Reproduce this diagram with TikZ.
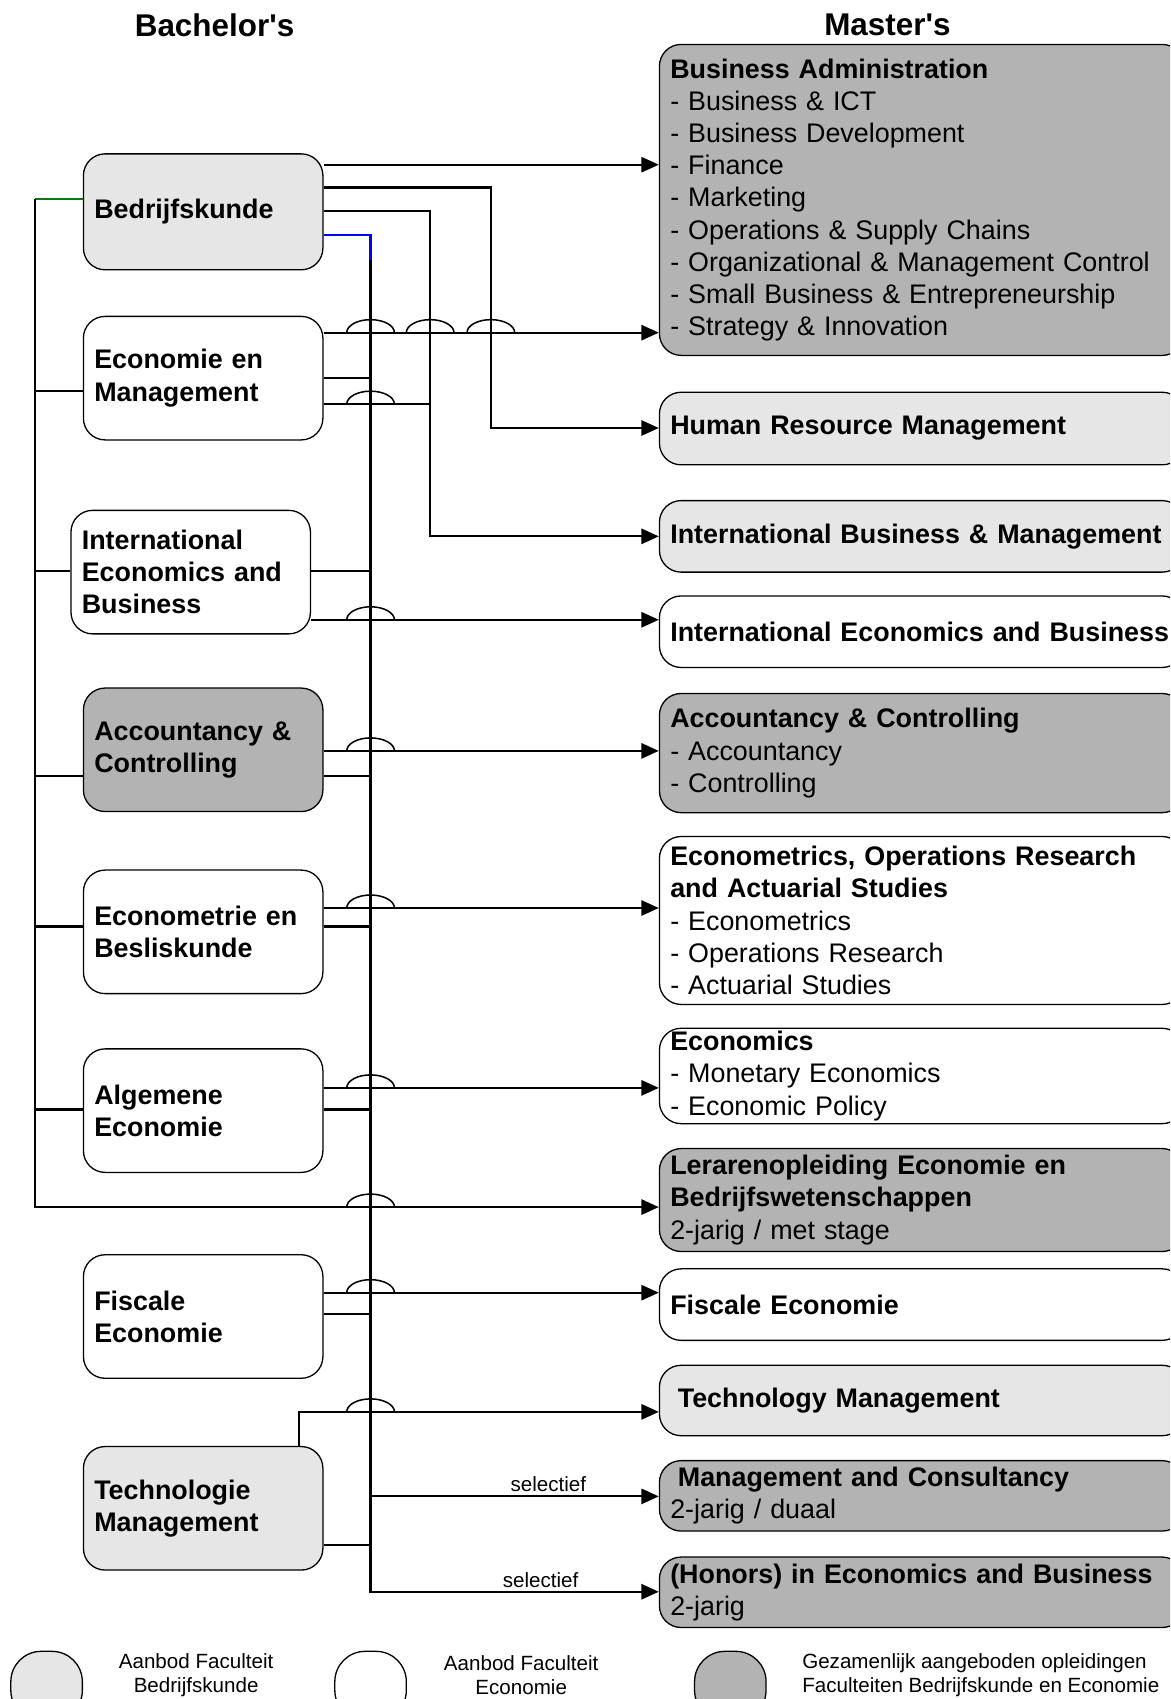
\documentclass[tikz,border=0pt]{standalone}
\usepackage{fontspec}
\setmainfont{Liberation Sans}
\usetikzlibrary{arrows.meta, positioning, calc}
\definecolor{bdkgray}{HTML}{E6E6E6}
\definecolor{jointgray}{HTML}{B3B3B3}

\begin{document}
\begin{tikzpicture}[
    x=0.5pt, y=-0.5pt,
    every node/.style={font=\fontsize{12.4}{14.85}\selectfont},
    bach/.style={
        draw, rounded corners=10pt, line width=0.6pt, align=left,
        text width=100.5pt, inner xsep=5pt, minimum height=57pt,
        font=\fontsize{12.4}{14.85}\selectfont\bfseries
    },
    mast/.style={
        draw, rounded corners=10pt, line width=0.6pt, align=left,
        text width=232pt, inner xsep=5pt, inner ysep=0pt, anchor=west
    },
    conn/.style={line width=1pt},
    arr/.style={conn, -{Triangle[length=8pt,width=7pt]}},
    hop/.style={line width=0.7pt},
    sel/.style={font=\fontsize{9.5}{11}\selectfont, above, inner sep=1.5pt},
    legbox/.style={draw, rounded corners=14pt, line width=0.6pt,
        minimum width=33pt, minimum height=32pt},
    legtext/.style={font=\fontsize{9.5}{11}\selectfont, inner sep=0pt}
]
    \useasboundingbox (0,0) rectangle (1080,1568);
    \clip (0,0) rectangle (1080,1568);

    % headers
    \node[font=\fontsize{14.5}{17}\selectfont\bfseries] (hbach) at (198,23) {Bachelor\textquotesingle s};
    \node[font=\fontsize{14.5}{17}\selectfont\bfseries] (hmast) at (819,23) {Master\textquotesingle s};

    % bachelor programmes
    \node[bach, fill=bdkgray, minimum height=53.5pt] (bdk) at (187.5,195.5) {Bedrijfskunde};
    \node[bach] (em) at (187.5,349) {Economie en\\Management};
    \node[bach] (ieb) at (176,528) {International\\Economics and\\Business};
    \node[bach, fill=jointgray] (ac) at (187.5,692) {Accountancy \&\\Controlling};
    \node[bach] (eb) at (187.5,860) {Econometrie en\\Besliskunde};
    \node[bach] (ae) at (187.5,1025) {Algemene\\Economie};
    \node[bach] (fe) at (187.5,1215) {Fiscale\\Economie};
    \node[bach, fill=bdkgray] (tm) at (187.5,1392) {Technologie\\Management};

    % master programmes
    \node[mast, fill=jointgray, minimum height=143.5pt] (ba) at (608,184.5)
        {\textbf{Business Administration}\\- Business \& ICT\\- Business Development\\- Finance\\- Marketing\\- Operations \& Supply Chains\\- Organizational \& Management Control\\- Small Business \& Entrepreneurship\\- Strategy \& Innovation};
    \node[mast, fill=bdkgray, minimum height=33.5pt] (hrm) at (608,395.5) {\textbf{Human Resource Management}};
    \node[mast, fill=bdkgray, minimum height=33pt] (ibm) at (608,495) {\textbf{International Business \& Management}};
    \node[mast, fill=white, minimum height=33pt] (iebm) at (608,583) {\mbox{\textbf{International Economics and Business}}};
    \node[mast, fill=jointgray, minimum height=55pt] (acm) at (608,695)
        {\textbf{Accountancy \& Controlling}\\- Accountancy\\- Controlling};
    \node[mast, fill=white, minimum height=77.5pt] (eor) at (608,849.5)
        {\textbf{Econometrics, Operations Research}\\\textbf{and Actuarial Studies}\\- Econometrics\\- Operations Research\\- Actuarial Studies};
    \node[mast, fill=white, minimum height=44pt] (eco) at (608,993)
        {\textbf{Economics}\\- Monetary Economics\\- Economic Policy};
    \node[mast, fill=jointgray, minimum height=47.5pt] (ler) at (608,1107.5)
        {\textbf{Lerarenopleiding Economie en}\\\textbf{Bedrijfswetenschappen}\\2-jarig / met stage};
    \node[mast, fill=white, minimum height=33pt] (fem) at (608,1204) {\textbf{Fiscale Economie}};
    \node[mast, fill=bdkgray, minimum height=32.5pt] (tmm) at (608,1292.5) {\hspace*{3.5pt}\textbf{Technology Management}};
    \node[mast, fill=jointgray, minimum height=32.5pt] (mc) at (608,1380.5)
        {\hspace*{3.5pt}\textbf{Management and Consultancy}\\2-jarig / duaal};
    \node[mast, fill=jointgray, minimum height=32.5pt] (hon) at (608,1469.5)
        {\textbf{(Honors) in Economics and Business}\\2-jarig};

    % bus lines
    \coordinate (busL) at (32,0);
    \coordinate (busR) at (342,0);
    \coordinate (colI) at (397,0);
    \coordinate (colH) at (453,0);

    % left bus
    \draw[conn, green!50!black] (busL |- 0,184) -- (bdk.west |- 0,184);
    \draw[arr] (busL |- 0,184) -- (busL |- 0,1114) -- (ler.west |- 0,1114);
    \foreach \n/\y in {em/361, ieb/527, ac/716, eb/855, ae/1024}
        \draw[conn] (busL |- 0,\y) -- (\n.west |- 0,\y);

    % right bus
    \draw[conn, blue] (bdk.east |- 0,217) -| (busR |- 0,240);
    \draw[arr] (busR |- 0,240) -- (busR |- 0,1469) -- (hon.west |- 0,1469)
        node[sel, pos=0.59] {selectief};
    \draw[arr] (busR |- 0,1381) -- (mc.west |- 0,1381) node[sel, pos=0.617] {selectief};
    \foreach \n/\y in {em/349, ieb/527, ac/716, eb/855, ae/1024, fe/1213, tm/1426}
        \draw[conn] (\n.east |- 0,\y) -- (busR |- 0,\y);

    % direct routes
    \draw[arr] (bdk.east |- 0,152) -- (ba.west |- 0,152);
    \draw[arr] (bdk.east |- 0,173) -| (colH |- 0,395) -- (hrm.west |- 0,395);
    \draw[arr] (bdk.east |- 0,195) -| (colI |- 0,495) -- (ibm.west |- 0,495);
    \draw[arr] (em.east |- 0,307) -- (ba.west |- 0,307);
    \draw[conn] (em.east |- 0,373) -- (colI |- 0,373);
    \draw[arr] (ieb.east |- 0,572) -- (iebm.west |- 0,572);
    \draw[arr] (ac.east |- 0,693) -- (acm.west |- 0,693);
    \draw[arr] (eb.east |- 0,838) -- (eor.west |- 0,838);
    \draw[arr] (ae.east |- 0,1004) -- (eco.west |- 0,1004);
    \draw[arr] (fe.east |- 0,1193) -- (fem.west |- 0,1193);
    \draw[arr] (tm.north -| 276,0) |- (tmm.west |- 0,1303);

    % line jumps
    \foreach \hx/\hy in {342/307, 397/307, 453/307, 342/373, 342/572, 342/693,
                         342/838, 342/1004, 342/1114, 342/1193, 342/1303}
        \draw[hop] (\hx-22,\hy) arc[start angle=180, end angle=0, x radius=11pt, y radius=6pt];

    % legend
    \node[legbox, fill=bdkgray] (lg1) at (43,1556) {};
    \node[legbox, fill=white] (lg2) at (342,1556) {};
    \node[legbox, fill=jointgray] (lg3) at (674,1556) {};
    \node[legtext, align=center] (lt1) at (181,1546) {Aanbod Faculteit\\Bedrijfskunde};
    \node[legtext, align=center] (lt2) at (481,1546) {Aanbod Faculteit\\Economie};
    \node[legtext, align=left, anchor=west] (lt3) at (740,1546)
        {Gezamenlijk aangeboden opleidingen\\Faculteiten Bedrijfskunde en Economie};
\end{tikzpicture}
\end{document}
